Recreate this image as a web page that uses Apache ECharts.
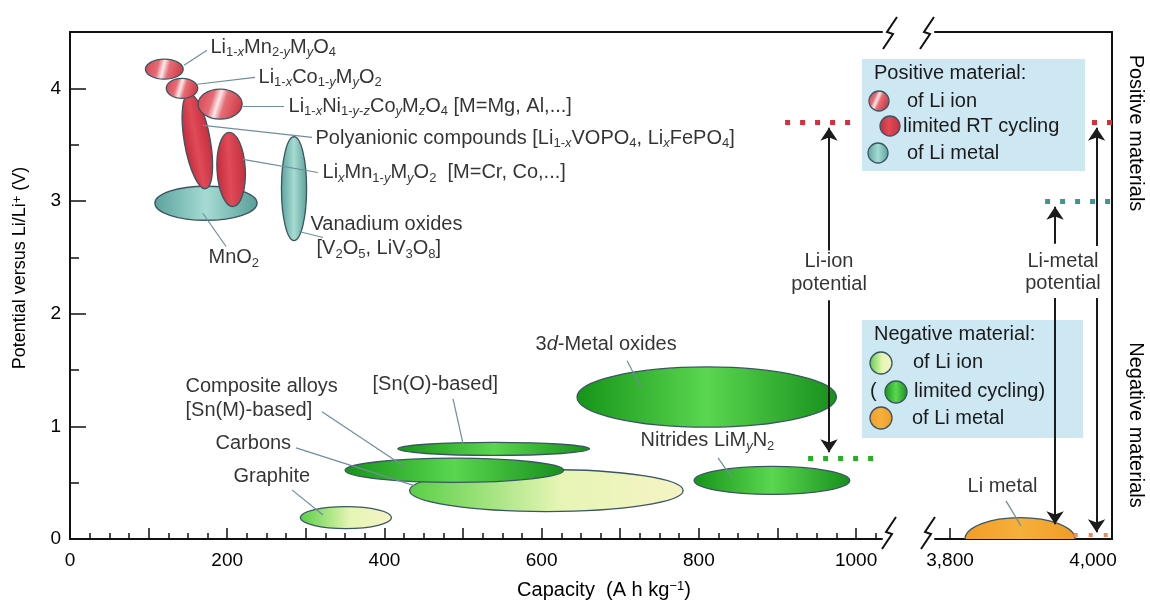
<!DOCTYPE html>
<html><head><meta charset="utf-8">
<script src="https://cdn.jsdelivr.net/npm/echarts@6/dist/echarts.min.js"></script>
<style>html,body{margin:0;padding:0;background:#fff}#c{width:1150px;height:604px}</style>
</head><body><div id="c"></div>
<script>
// ---------------- DATA ----------------
const xTickLabels = [0, 200, 400, 600, 800, 1000];
const xMajorTicks = [0, 100, 200, 300, 400, 500, 600, 700, 800, 900, 1000];
const xRightTickLabels = [3800, 4000];
const xRightTicks = [3800];
const yTickLabels = [0, 1, 2, 3, 4];
const yMinorTicks = [0.5, 1.5, 2.5, 3.5];

// Positive electrode materials (listed in drawing order)
const posNames     = ['MnO2', 'Vanadium oxides', 'Polyanionic compounds', 'LixMn1-yMyO2', 'Li1-xMn2-yMyO4', 'Li1-xCo1-yMyO2', 'Li1-xNi1-y-zCoyMzO4'];
const posCapCenter = [173, 285, 162, 205, 120, 142.5, 191];
const posCapHalf   = [65, 16, 16.5, 18, 24, 20, 28];
const posVCenter   = [2.98, 3.11, 3.53, 3.28, 4.17, 4.0, 3.86];
const posVHalf     = [0.151, 0.462, 0.427, 0.33, 0.089, 0.089, 0.133];
const posTilt      = [0, 0, 10, 3, 0, 0, 0];
const posKind      = ['liMetal', 'liMetal', 'limited', 'limited', 'liIon', 'liIon', 'liIon'];

// Negative electrode materials (listed in drawing order)
const negNames     = ['Carbons', 'Graphite', 'Composite alloys', 'Sn(O)-based', '3d-Metal oxides', 'Nitrides'];
const negCapCenter = [606, 351, 489, 539, 810, 893];
const negCapHalf   = [174, 58, 139, 122, 165, 99];
const negVCenter   = [0.43, 0.19, 0.61, 0.80, 1.26, 0.52];
const negVHalf     = [0.187, 0.098, 0.107, 0.058, 0.267, 0.124];
const negKind      = ['liIon', 'liIon', 'limited', 'limited', 'limited', 'limited'];

// Li metal (broken axis part)
const liMetalCap = [3898];
const liMetalCapHalf = [77];
const liMetalV = [0];
const liMetalVHalf = [0.19];

// Potential levels (dotted markers)
const liIonPosLevel = 3.7;
const liIonNegLevel = 0.72;
const liMetalPosLevel = 3.0;
const liMetalNegLevel = 0.035;
const dotsLeftRed   = [[909.7, liIonPosLevel], [995, liIonPosLevel]];
const dotsLeftGreen = [[939, liIonNegLevel], [1028, liIonNegLevel]];
const dotsRightRed  = [[3998.6, liIonPosLevel], [4026.6, liIonPosLevel]];
const dotsRightTeal = [[3933, liMetalPosLevel], [4026.6, liMetalPosLevel]];
const dotsRightOrange = [[3973, liMetalNegLevel], [4026.6, liMetalNegLevel]];

// Arrows
const arrowsLeft = [
  [[965.6, 2.56], [965.6, 3.65]],
  [[965.6, 2.12], [965.6, 0.77]]
];
const arrowsRight = [
  [[3947, 2.62], [3947, 2.95]],
  [[4005, 2.60], [4005, 3.65]],
  [[3947, 2.14], [3947, 0.13]],
  [[4005, 2.14], [4005, 0.06]]
];

// Leader lines for annotations
const leadersLeft = [
  [[145, 4.204], [174.3, 4.338]],
  [[161.6, 4.036], [235.4, 4.098]],
  [[220.1, 3.84], [272.3, 3.84]],
  [[169.2, 3.671], [307.9, 3.564]],
  [[220.1, 3.369], [315.5, 3.253]],
  [[291.3, 2.729], [321.9, 2.676]],
  [[169.2, 2.889], [198.5, 2.596]],
  [[726.5, 1.342], [708.7, 1.582]],
  [[500, 0.844], [487.3, 1.244]],
  [[426.2, 0.64], [320.6, 1.129]],
  [[438.9, 0.471], [287.5, 0.809]],
  [[321.9, 0.213], [282.4, 0.436]],
  [[842.2, 0.542], [824.4, 0.72]]
];
const leadersRight = [
  [[3899.3, 0.116], [3878.3, 0.338]]
];

// Annotation texts
const annoLeftX = [178.1, 239.2, 277.4, 311.7, 320.6, 305.3, 313, 175.6, 591.6, 384.2, 146.3, 146.3, 184.5, 207.4, 725.2, 965.6, 965.6];
const annoLeftY = [4.364, 4.098, 3.84, 3.556, 3.253, 2.791, 2.578, 2.498, 1.724, 1.369, 1.351, 1.138, 0.844, 0.551, 0.871, 2.462, 2.258];
const annoLeftText = [
  'Li{s|1-}{si|x}Mn{s|2-}{si|y}M{si|y}O{s|4}',
  'Li{s|1-}{si|x}Co{s|1-}{si|y}M{si|y}O{s|2}',
  'Li{s|1-}{si|x}Ni{s|1-}{si|y}{s|-}{si|z}Co{si|y}M{si|z}O{s|4} [M=Mg, Al,...]',
  'Polyanionic compounds [Li{s|1-}{si|x}VOPO{s|4}, Li{si|x}FePO{s|4}]',
  'Li{si|x}Mn{s|1-}{si|y}M{si|y}O{s|2}  [M=Cr, Co,...]',
  'Vanadium oxides',
  '[V{s|2}O{s|5}, LiV{s|3}O{s|8}]',
  'MnO{s|2}',
  '3{it|d}-Metal oxides',
  '[Sn(O)-based]',
  'Composite alloys',
  '[Sn(M)-based]',
  'Carbons',
  'Graphite',
  'Nitrides LiM{si|y}N{s|2}',
  'Li-ion',
  'potential'
];
const annoLeftCentered = [false, false, false, false, false, false, false, false, false, false, false, false, false, false, false, true, true];
const annoRightX = [3823.8, 3958, 3958];
const annoRightY = [0.462, 2.462, 2.267];
const annoRightText = ['Li metal', 'Li-metal', 'potential'];
const annoRightCentered = [false, true, true];

// ---------------- RENDER ----------------
const FONT = '"Liberation Sans", Arial, sans-serif';
const INK = '#000';
function lin(x2, y2, stops) {
  return { type: 'linear', x: 0, y: 0, x2: x2, y2: y2, colorStops: stops.map(s => ({ offset: s[0], color: s[1] })) };
}
const posFill = {
  liIon: lin(1, 0.45, [[0, '#d6404d'], [0.36, '#e46c75'], [0.5, '#fbeaea'], [0.64, '#e46c75'], [1, '#cf3946']]),
  limited: lin(1, 0, [[0, '#c52a3a'], [0.45, '#e04b58'], [1, '#c52d3d']]),
  liMetal: lin(1, 0, [[0, '#5aa39d'], [0.5, '#a6dbd2'], [1, '#579f99']])
};
const negFill = {
  liIon: lin(1, 0, [[0, '#58cf45'], [0.55, '#e6f5b4'], [1, '#f6f3c6']]),
  limited: lin(1, 0, [[0, '#169418'], [0.5, '#5ad650'], [1, '#178f1b']]),
  liMetal: lin(1, 0, [[0, '#f19d27'], [0.5, '#f6b03c'], [1, '#ef9c26']])
};
const OUTLINE = '#3a5663';

function ellipseRenderer(kinds, fills) {
  return function (params, api) {
    const c = api.coord([api.value(0), api.value(1)]);
    const sz = api.size([api.value(2), api.value(3)]);
    return {
      type: 'ellipse', x: c[0], y: c[1],
      rotation: (api.value(4) || 0) * Math.PI / 180,
      shape: { cx: 0, cy: 0, rx: sz[0], ry: sz[1] },
      style: { fill: fills[kinds[params.dataIndex]], stroke: OUTLINE, lineWidth: 1.3 }
    };
  };
}

const RICH = {
  s: { fontSize: 13, lineHeight: 10, verticalAlign: 'bottom', fontFamily: FONT, color: INK },
  si: { fontSize: 13, lineHeight: 10, verticalAlign: 'bottom', fontFamily: FONT, color: INK, fontStyle: 'italic' },
  it: { fontSize: 20, lineHeight: 24, fontFamily: FONT, color: INK, fontStyle: 'italic' },
  sup: { fontSize: 13, lineHeight: 10, verticalAlign: 'top', fontFamily: FONT, color: INK }
};

function labelSeries(xi, yi, xs, ys, texts, centered) {
  return {
    type: 'scatter', xAxisIndex: xi, yAxisIndex: yi, symbol: 'circle', symbolSize: 1, silent: true, z: 5,
    itemStyle: { color: 'rgba(0,0,0,0)' },
    label: { show: true, distance: 0, color: INK, fontSize: 20, fontFamily: FONT, lineHeight: 24, rich: RICH },
    data: xs.map((x, i) => ({
      value: [x, ys[i]],
      label: { formatter: texts[i], position: centered[i] ? 'inside' : 'right' }
    }))
  };
}

function bolt(cx, cy) {
  return {
    type: 'polyline', z: 10,
    shape: { points: [[cx + 7, cy - 16], [cx - 3, cy - 1], [cx + 3, cy + 1], [cx - 7, cy + 16]] },
    style: { stroke: '#111', lineWidth: 2, fill: null }
  };
}
function gtext(x, y, text, opts) {
  return Object.assign({
    type: 'text', x: x, y: y, z: 3,
    style: Object.assign({ text: text, fontSize: 20, fontFamily: FONT, fill: '#1a1a1a', align: 'left', verticalAlign: 'middle', rich: RICH }, opts || {})
  });
}
function gcircle(cx, cy, r, fill) {
  return { type: 'circle', z: 3, shape: { cx: cx, cy: cy, r: r }, style: { fill: fill, stroke: OUTLINE, lineWidth: 1.3 } };
}

const axisTxt = { color: '#000', fontSize: 19, fontFamily: FONT };
const lineBlack = { color: '#111', width: 2 };

const option = {
  animation: false,
  backgroundColor: '#fff',
  grid: [
    { left: 70, top: 32, width: 812, bottom: 65 },
    { left: 935, top: 32, right: 38, bottom: 65 }
  ],
  xAxis: [
    { gridIndex: 0, type: 'value', min: 0, max: 1033, position: 'bottom',
      axisLine: { show: true, onZero: false, lineStyle: lineBlack },
      axisTick: { show: true, inside: true, length: 11, customValues: xMajorTicks, lineStyle: { color: '#111', width: 1.5 } },
      axisLabel: Object.assign({ show: true, customValues: xTickLabels, margin: 12, formatter: v => String(v) }, axisTxt),
      splitLine: { show: false } },
    { gridIndex: 0, type: 'value', min: 0, max: 1033, position: 'bottom', offset: 0,
      axisLine: { show: false, onZero: false },
      axisTick: { show: true, inside: true, length: 6, customValues: xMajorTicks.slice(0, -1).flatMap(v => [v + 25, v + 50, v + 75]).concat([1025]), lineStyle: { color: '#111', width: 1.5 } },
      axisLabel: { show: false }, splitLine: { show: false } },
    { gridIndex: 0, type: 'value', min: 0, max: 1033, position: 'top',
      axisLine: { show: true, onZero: false, lineStyle: lineBlack },
      axisTick: { show: false }, axisLabel: { show: false }, splitLine: { show: false } },
    { gridIndex: 1, type: 'value', min: 3779, max: 4026.6, position: 'bottom',
      axisLine: { show: true, onZero: false, lineStyle: lineBlack },
      axisTick: { show: true, inside: true, length: 11, customValues: xRightTicks, lineStyle: { color: '#111', width: 1.5 } },
      axisLabel: Object.assign({ show: true, customValues: xRightTickLabels, margin: 12, formatter: v => Number(v).toLocaleString('en-US') }, axisTxt),
      splitLine: { show: false } },
    { gridIndex: 1, type: 'value', min: 3779, max: 4026.6, position: 'top',
      axisLine: { show: true, onZero: false, lineStyle: lineBlack },
      axisTick: { show: false }, axisLabel: { show: false }, splitLine: { show: false } }
  ],
  yAxis: [
    { gridIndex: 0, type: 'value', min: 0, max: 4.5, position: 'left',
      axisLine: { show: true, onZero: false, lineStyle: lineBlack },
      axisTick: { show: true, inside: true, length: 16, customValues: yTickLabels, lineStyle: { color: '#111', width: 1.5 } },
      axisLabel: Object.assign({ show: true, customValues: yTickLabels, margin: 9 }, axisTxt),
      splitLine: { show: false } },
    { gridIndex: 0, type: 'value', min: 0, max: 4.5, position: 'left', offset: 0,
      axisLine: { show: false, onZero: false },
      axisTick: { show: true, inside: true, length: 9, customValues: yMinorTicks, lineStyle: { color: '#111', width: 1.5 } },
      axisLabel: { show: false }, splitLine: { show: false } },
    { gridIndex: 1, type: 'value', min: 0, max: 4.5, position: 'right',
      axisLine: { show: true, onZero: false, lineStyle: lineBlack },
      axisTick: { show: false }, axisLabel: { show: false }, splitLine: { show: false } }
  ],
  series: [
    { type: 'custom', name: 'Positive', xAxisIndex: 0, yAxisIndex: 0, silent: true, z: 2,
      renderItem: ellipseRenderer(posKind, posFill),
      data: posCapCenter.map((v, i) => [v, posVCenter[i], posCapHalf[i], posVHalf[i], posTilt[i]]) },
    { type: 'custom', name: 'Negative', xAxisIndex: 0, yAxisIndex: 0, silent: true, z: 2,
      renderItem: ellipseRenderer(negKind, negFill),
      data: negCapCenter.map((v, i) => [v, negVCenter[i], negCapHalf[i], negVHalf[i], 0]) },
    { type: 'custom', name: 'Li metal', xAxisIndex: 3, yAxisIndex: 2, silent: true, clip: true, z: 2,
      renderItem: ellipseRenderer(['liMetal'], negFill),
      data: liMetalCap.map((v, i) => [v, liMetalV[i], liMetalCapHalf[i], liMetalVHalf[i], 0]) },
    { type: 'lines', coordinateSystem: 'cartesian2d', xAxisIndex: 0, yAxisIndex: 0, silent: true, z: 3,
      lineStyle: { color: '#6f8e9b', width: 1.2, opacity: 1 }, symbol: 'none',
      data: leadersLeft.map(c => ({ coords: c })) },
    { type: 'lines', coordinateSystem: 'cartesian2d', xAxisIndex: 3, yAxisIndex: 2, silent: true, z: 3,
      lineStyle: { color: '#6f8e9b', width: 1.2, opacity: 1 }, symbol: 'none',
      data: leadersRight.map(c => ({ coords: c })) },
    { type: 'lines', coordinateSystem: 'cartesian2d', xAxisIndex: 0, yAxisIndex: 0, silent: true, z: 3, symbol: 'none',
      lineStyle: { width: 5, type: [5, 10], cap: 'butt', opacity: 1 },
      data: [
        { coords: dotsLeftRed, lineStyle: { color: '#d92f3c' } },
        { coords: dotsLeftGreen, lineStyle: { color: '#22b322' } }
      ] },
    { type: 'lines', coordinateSystem: 'cartesian2d', xAxisIndex: 3, yAxisIndex: 2, silent: true, z: 3, symbol: 'none',
      lineStyle: { width: 5, type: [5, 10], cap: 'butt', opacity: 1 },
      data: [
        { coords: dotsRightRed, lineStyle: { color: '#d92f3c' } },
        { coords: dotsRightTeal, lineStyle: { color: '#3d9690' } },
        { coords: dotsRightOrange, lineStyle: { color: '#ee8a5c', width: 4, type: [4, 11] } }
      ] },
    { type: 'lines', coordinateSystem: 'cartesian2d', xAxisIndex: 0, yAxisIndex: 0, silent: true, z: 4,
      symbol: ['none', 'arrow'], symbolSize: 13,
      lineStyle: { color: '#1b1b1b', width: 2, opacity: 1 },
      data: arrowsLeft.map(c => ({ coords: c })) },
    { type: 'lines', coordinateSystem: 'cartesian2d', xAxisIndex: 3, yAxisIndex: 2, silent: true, z: 4,
      symbol: ['none', 'arrow'], symbolSize: 13,
      lineStyle: { color: '#1b1b1b', width: 2, opacity: 1 },
      data: arrowsRight.map(c => ({ coords: c })) },
    labelSeries(0, 0, annoLeftX, annoLeftY, annoLeftText, annoLeftCentered),
    labelSeries(3, 2, annoRightX, annoRightY, annoRightText, annoRightCentered)
  ],
  graphic: [
    bolt(890, 33), bolt(927, 33), bolt(889, 533), bolt(928, 533),
    // Positive legend
    { type: 'rect', z: 1, shape: { x: 862, y: 59, width: 223, height: 112 }, style: { fill: '#cde7f3' } },
    gtext(874, 73, 'Positive material:'),
    gcircle(879, 101, 10, posFill.liIon), gtext(907, 101, 'of Li ion'),
    gcircle(890, 126, 10, posFill.limited), gtext(903, 126, 'limited RT cycling'),
    gcircle(878, 153, 10, posFill.liMetal), gtext(907, 153, 'of Li metal'),
    // Negative legend
    { type: 'rect', z: 1, shape: { x: 862, y: 320, width: 221, height: 118 }, style: { fill: '#cde7f3' } },
    gtext(874, 334, 'Negative material:'),
    gcircle(881, 363, 11, negFill.liIon), gtext(913, 362, 'of Li ion'),
    gtext(870, 391, '('), gcircle(896, 392, 11, negFill.limited), gtext(914, 391, 'limited cycling)'),
    gcircle(881, 418, 11, negFill.liMetal), gtext(912, 418, 'of Li metal'),
    // Axis titles
    gtext(604, 590, 'Capacity  (A h kg{sup|−1})', { align: 'center', fill: INK }),
    Object.assign(gtext(20, 268, 'Potential versus Li/Li{sup|+} (V)', { align: 'center', fill: INK, fontSize: 18 }), { rotation: Math.PI / 2 }),
    Object.assign(gtext(1136, 133, 'Positive materials', { align: 'center', fill: INK }), { rotation: -Math.PI / 2 }),
    Object.assign(gtext(1136, 425, 'Negative materials', { align: 'center', fill: INK }), { rotation: -Math.PI / 2 })
  ]
};

const chart = echarts.init(document.getElementById('c'), null, { renderer: 'canvas' });
chart.setOption(option);
</script>
</body></html>
